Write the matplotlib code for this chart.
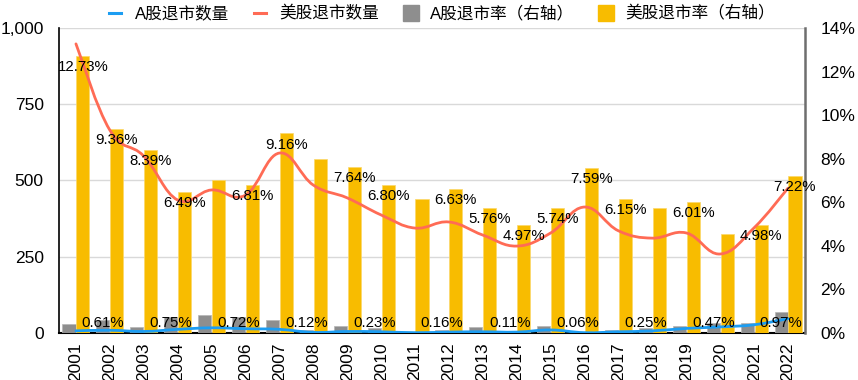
import matplotlib
matplotlib.use("Agg")
import matplotlib.pyplot as plt
import numpy as np
from matplotlib.path import Path
from matplotlib.patches import PathPatch
from matplotlib.lines import Line2D
from matplotlib.ticker import FuncFormatter, FixedLocator

plt.rcParams['font.family'] = ['Liberation Sans', 'Noto Sans CJK SC']

years = [str(y) for y in range(2001, 2023)]
a_count = [7, 9, 5, 12, 17, 14, 12, 2, 5, 4, 1, 3, 4, 3, 10, 1, 4, 7, 15, 20, 27, 47]
us_count = [948, 665, 580, 436, 469, 452, 590, 485, 443, 387, 344, 364, 321, 285, 328, 413, 335, 311, 328, 259, 345, 475]
a_rate = [0.40, 0.61, 0.28, 0.75, 0.84, 0.72, 0.61, 0.12, 0.34, 0.23, 0.03, 0.16, 0.29, 0.11, 0.32, 0.06, 0.14, 0.25, 0.32, 0.47, 0.44, 0.97]
us_rate = [12.73, 9.36, 8.39, 6.49, 7.04, 6.81, 9.16, 7.99, 7.64, 6.80, 6.15, 6.63, 5.76, 4.97, 5.74, 7.59, 6.15, 5.72, 6.01, 4.54, 4.98, 7.22]
a_label_show = [i % 2 == 1 for i in range(22)]
us_label_show = [y not in ('2005', '2008', '2011', '2018', '2020') for y in years]

names = ['A股退市数量', '美股退市数量', 'A股退市率（右轴）', '美股退市率（右轴）']
c_blue = '#1C9DF2'
c_red = '#FF6B55'
c_gray = '#8E8E8E'
c_yellow = '#F8BC00'

fig = plt.figure(figsize=(8.58, 3.80), dpi=100)
ax = fig.add_axes([59/858, 1-333/380, (805-59)/858, (333-28)/380])
ax2 = ax.twinx()

x = np.arange(len(years))
ax.set_xlim(-0.5, len(years)-0.5)
ax.set_ylim(0, 1000)
ax2.set_ylim(0, 14)

ax.yaxis.set_major_locator(FixedLocator([0, 250, 500, 750, 1000]))
ax.yaxis.set_major_formatter(FuncFormatter(lambda v, p: f'{int(v):,}'))
ax.grid(axis='y', color='#D9D9D9', lw=1)
ax.set_axisbelow(True)
ax2.yaxis.set_major_locator(FixedLocator(list(range(0, 15, 2))))
ax2.yaxis.set_major_formatter(FuncFormatter(lambda v, p: f'{int(v)}%'))

w = 0.385
ax2.bar(x - 0.205, a_rate, width=w, color=c_gray, edgecolor='#B5B5B5', lw=0.5, zorder=2)
ax2.bar(x + 0.205, us_rate, width=w, color=c_yellow, edgecolor='#FBD86A', lw=0.5, zorder=2)


def smooth_path(xs, ys, t=0.2):
    pts = np.column_stack([xs, ys]).astype(float)
    n = len(pts)
    verts = [pts[0]]
    codes = [Path.MOVETO]
    for i in range(n - 1):
        p0 = pts[max(i - 1, 0)]
        p1 = pts[i]
        p2 = pts[i + 1]
        p3 = pts[min(i + 2, n - 1)]
        c1 = p1 + (p2 - p0) * t
        c2 = p2 - (p3 - p1) * t
        verts += [c1, c2, p2]
        codes += [Path.CURVE4] * 3
    return Path(verts, codes)


for vals, col in ((a_count, c_blue), (us_count, c_red)):
    pp = PathPatch(smooth_path(x, vals), facecolor='none', edgecolor=col, lw=2.0,
                   transform=ax.transData, zorder=3, capstyle='round', joinstyle='round')
    ax2.add_patch(pp)

for i in range(len(years)):
    if us_label_show[i]:
        ax2.annotate(f'{us_rate[i]:.2f}%', (x[i] + 0.205, us_rate[i]), xytext=(0, -3),
                     textcoords='offset points', ha='center', va='top', fontsize=10.8,
                     color='black', zorder=4)
    if a_label_show[i]:
        ax2.annotate(f'{a_rate[i]:.2f}%', (x[i] - 0.205, 0), xytext=(0, 7.5),
                     textcoords='offset points', ha='center', va='center', fontsize=10.8,
                     color='black', zorder=4)

ax.set_xticks(x)
ax.set_xticklabels(years, rotation=90, fontsize=12.5)
ax.tick_params(axis='x', length=0, pad=7)
ax.tick_params(axis='y', length=0, pad=11, labelsize=12.5)
ax2.tick_params(axis='y', length=0, pad=11, labelsize=12.5)

for a in (ax, ax2):
    a.spines['top'].set_visible(False)
ax.spines['left'].set_color('black')
ax.spines['left'].set_linewidth(1.2)
ax.spines['bottom'].set_color('black')
ax.spines['bottom'].set_linewidth(1.5)
ax.spines['right'].set_visible(False)
ax2.spines['left'].set_visible(False)
ax2.spines['bottom'].set_visible(False)
ax2.spines['right'].set_color('#6E6E6E')
ax2.spines['right'].set_linewidth(1.8)

handles = [Line2D([], [], color=c_blue, lw=2.2),
           Line2D([], [], color=c_red, lw=2.2),
           Line2D([], [], color=c_gray, marker='s', ms=11, ls='none'),
           Line2D([], [], color=c_yellow, marker='s', ms=11, ls='none')]
fig.legend(handles, names, loc='upper center', bbox_to_anchor=(0.515, 1.025), ncol=4,
           frameon=False, fontsize=12, handlelength=0.75, handletextpad=0.8,
           columnspacing=1.5)

fig.savefig('out.png', dpi=100)
